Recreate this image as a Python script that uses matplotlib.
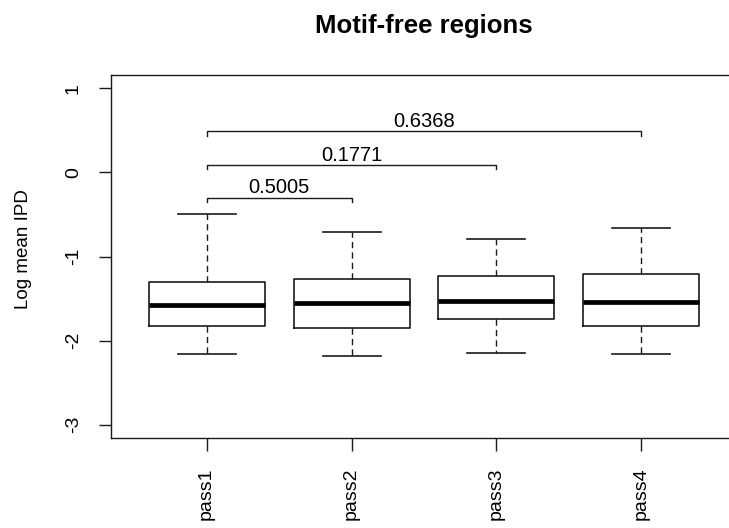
import matplotlib
matplotlib.use("Agg")
import matplotlib.pyplot as plt

plt.rcParams['font.family'] = ['Liberation Sans', 'DejaVu Sans']

# box statistics
groups = ['pass1', 'pass2', 'pass3', 'pass4']
whisk_hi = [-0.49, -0.706, -0.786, -0.658]
q3 = [-1.306, -1.27, -1.238, -1.206]
med = [-1.575, -1.548, -1.524, -1.544]
q1 = [-1.833, -1.853, -1.738, -1.833]
whisk_lo = [-2.155, -2.19, -2.143, -2.158]

# pairwise comparison brackets (from group 1 to group j)
pair_end = [2, 3, 4]
pair_y = [-0.30, 0.09, 0.49]
pair_p = ['0.5005', '0.1771', '0.6368']

stats = []
for i in range(len(groups)):
    stats.append(dict(label=groups[i], whislo=whisk_lo[i], q1=q1[i], med=med[i],
                      q3=q3[i], whishi=whisk_hi[i], fliers=[]))

fig = plt.figure(figsize=(7.29, 5.28), dpi=100)
ax = fig.add_axes([111 / 729, 1 - 438 / 528, 626 / 729, 363 / 528])

line_c = '#1a1a1a'
ax.bxp(stats, positions=range(1, 5), widths=0.8, capwidths=0.4, showfliers=False,
       boxprops=dict(color=line_c, linewidth=1.2),
       medianprops=dict(color='black', linewidth=3.4, solid_capstyle='butt'),
       whiskerprops=dict(color=line_c, linewidth=1.0, linestyle=(0, (4.5, 3))),
       capprops=dict(color=line_c, linewidth=1.2))

for j, y, p in zip(pair_end, pair_y, pair_p):
    ax.plot([1, 1, j, j], [y - 0.05, y, y, y - 0.05], color=line_c, linewidth=1.0)
    ax.text((1 + j) / 2, y + 0.05, p, ha='center', va='baseline', fontsize=14.5)

ax.set_xlim(0.34, 4.66)
ax.set_ylim(-3.16, 1.16)
ax.set_yticks([-3, -2, -1, 0, 1])
ax.set_yticklabels(['-3', '-2', '-1', '0', '1'])
ax.set_xticks([1, 2, 3, 4])
ax.set_xticklabels(groups)

ax.tick_params(axis='both', direction='out', length=9, width=1.0, colors=line_c,
               labelsize=14, labelcolor='black')
ax.tick_params(axis='y', pad=12)
ax.tick_params(axis='x', pad=12)
for lab in ax.get_yticklabels():
    lab.set_rotation(90)
    lab.set_va('center')
for lab in ax.get_xticklabels():
    lab.set_rotation(90)

for s in ax.spines.values():
    s.set_color(line_c)
    s.set_linewidth(1.0)

fig.text(24 / 729, 1 - 249 / 528, 'Log mean IPD', rotation=90, ha='center',
         va='center', fontsize=13.5)
fig.text(424 / 729, 1 - 33 / 528, 'Motif-free regions', ha='center', va='baseline',
         fontsize=18.5, fontweight='bold')

fig.savefig('out.png', dpi=100)
